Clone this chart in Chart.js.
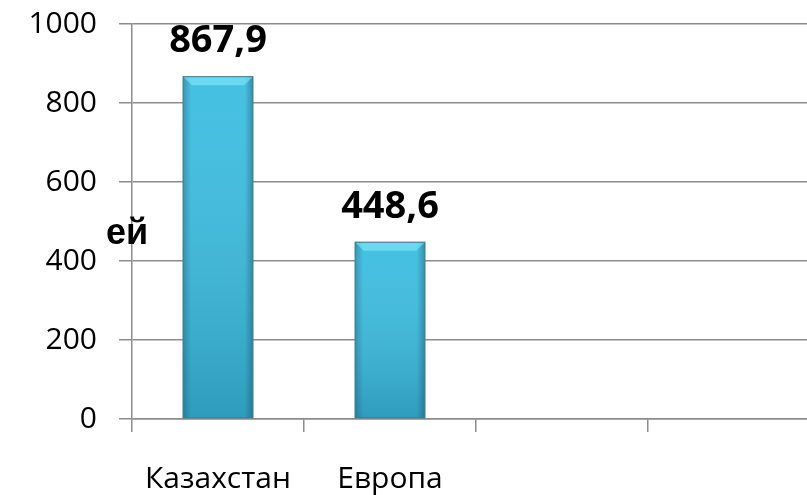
<!DOCTYPE html>
<html>
<head>
<meta charset="utf-8">
<script src="https://cdn.jsdelivr.net/npm/chart.js@4"></script>
<style>
  html, body { margin: 0; padding: 0; background: #fff; overflow: hidden; }
  #wrap { width: 840px; height: 495px; position: relative; }
</style>
</head>
<body>
<div id="wrap"><canvas id="chartCanvas"></canvas></div>
<script>
"use strict";

const categories = ["Казахстан", "Европа", "", ""];
const values = [867.9, 448.6, null, null];
const valueLabels = ["867,9", "448,6", "", ""];
const sideText = "ей";

// shading and bevel over each bar
const barShade = {
  id: "barShade",
  afterDatasetsDraw(chart) {
    const ctx = chart.ctx;
    chart.getDatasetMeta(0).data.forEach((bar, i) => {
      if (values[i] == null) return;
      const left = bar.x - bar.width / 2;
      const right = bar.x + bar.width / 2;
      const top = bar.y;
      const bottom = bar.base;
      ctx.save();

      const gv = ctx.createLinearGradient(0, top, 0, bottom);
      gv.addColorStop(0, "rgba(255,255,255,0.05)");
      gv.addColorStop(1, "rgba(0,40,60,0.22)");
      ctx.fillStyle = gv;
      ctx.fillRect(left, top, right - left, bottom - top);

      const gh = ctx.createLinearGradient(left, 0, right, 0);
      gh.addColorStop(0, "rgba(0,30,50,0.25)");
      gh.addColorStop(0.12, "rgba(0,30,50,0)");
      gh.addColorStop(0.88, "rgba(0,30,50,0)");
      gh.addColorStop(1, "rgba(0,30,50,0.3)");
      ctx.fillStyle = gh;
      ctx.fillRect(left, top, right - left, bottom - top);

      // top bevel
      const b = 9;
      ctx.beginPath();
      ctx.moveTo(left, top);
      ctx.lineTo(right, top);
      ctx.lineTo(right - b, top + b);
      ctx.lineTo(left + b, top + b);
      ctx.closePath();
      ctx.fillStyle = "rgba(140,235,255,0.55)";
      ctx.fill();

      ctx.strokeStyle = "#4f7a88";
      ctx.lineWidth = 1;
      ctx.strokeRect(left + 0.5, top + 0.5, right - left - 1, bottom - top - 1);
      ctx.restore();
    });
  }
};

// value labels above bars and the clipped caption at the left
const textLayer = {
  id: "textLayer",
  afterDraw(chart) {
    const ctx = chart.ctx;
    ctx.save();
    ctx.fillStyle = "#000";
    ctx.font = "bold 38px 'Open Sans'";
    ctx.textAlign = "center";
    ctx.textBaseline = "alphabetic";
    chart.getDatasetMeta(0).data.forEach((bar, i) => {
      if (values[i] == null) return;
      ctx.fillText(valueLabels[i], bar.x, bar.y - 24);
    });
    ctx.font = "bold 36px 'Liberation Sans'";
    ctx.textAlign = "left";
    ctx.fillText(sideText, 106, 244);
    ctx.restore();
  }
};

document.addEventListener("DOMContentLoaded", () => {
  const ctx = document.querySelector("#chartCanvas").getContext("2d");

  new Chart(ctx, {
    type: "bar",
    data: {
      labels: categories,
      datasets: [
        {
          data: values,
          backgroundColor: "#3bbde0",
          borderWidth: 0,
          categoryPercentage: 1,
          barPercentage: 0.41
        }
      ]
    },
    options: {
      responsive: true,
      maintainAspectRatio: false,
      animation: false,
      layout: { padding: { top: 24, right: 20, left: 0, bottom: 0 } },
      plugins: {
        legend: { display: false },
        tooltip: { enabled: false }
      },
      scales: {
        x: {
          afterFit: scale => { scale.height = 76; },
          grid: {
            drawOnChartArea: false,
            drawTicks: true,
            tickLength: 13,
            color: "#8c8c8c",
            lineWidth: 1.5
          },
          border: { color: "#8c8c8c", width: 1.5 },
          ticks: {
            color: "#000",
            padding: 29,
            font: { family: "'Open Sans'", size: 30 }
          }
        },
        y: {
          min: 0,
          max: 1000,
          afterFit: scale => {
            scale.width = 132;
            scale.paddingTop = 0;
            scale.paddingBottom = 0;
          },
          grid: {
            color: "#8c8c8c",
            lineWidth: 1.5,
            tickLength: 13
          },
          border: { color: "#8c8c8c", width: 1.5 },
          ticks: {
            stepSize: 200,
            color: "#000",
            padding: 22,
            font: { family: "'Open Sans'", size: 30 },
            callback: v => String(v)
          }
        }
      }
    },
    plugins: [barShade, textLayer]
  });
});
</script>
</body>
</html>
